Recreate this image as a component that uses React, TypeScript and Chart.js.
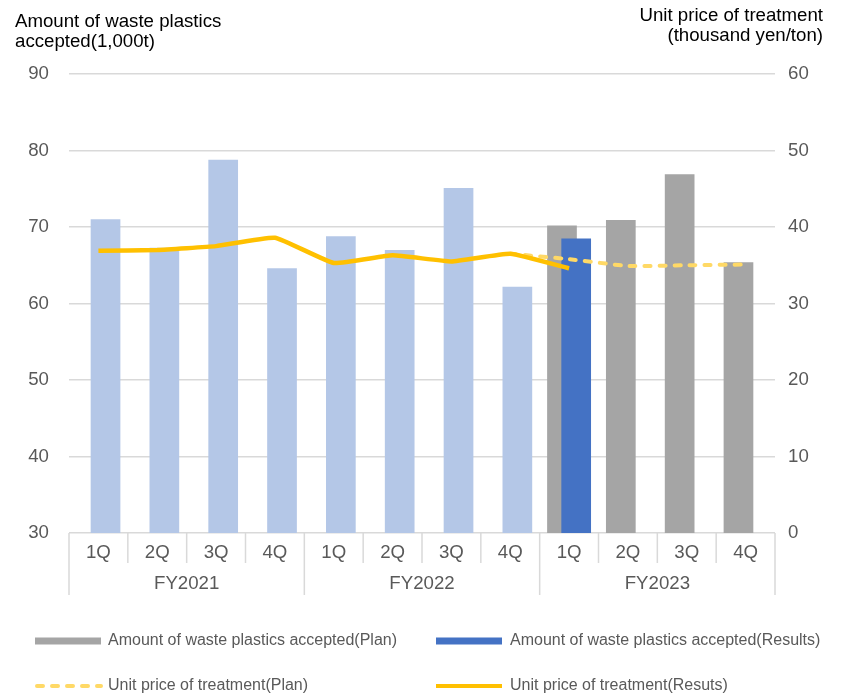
import React, { useEffect, useRef } from "react";
import { Chart, registerables } from "chart.js";

Chart.register(...registerables);

const quarters = ["1Q", "2Q", "3Q", "4Q", "1Q", "2Q", "3Q", "4Q", "1Q", "2Q", "3Q", "4Q"];
const fiscalYears = ["FY2021", "FY2022", "FY2023"];
const quartersPerYear = 4;

const wastePlan: (number | null)[] = [null, null, null, null, null, null, null, null, 70.2, 70.9, 76.9, 65.4];
const wasteResults: (number | null)[] = [71.0, 67.3, 78.8, 64.6, 68.8, 67.0, 75.1, 62.2, 68.5, null, null, null];
const pricePlan: (number | null)[] = [null, null, null, null, null, null, null, 36.5, 35.8, 34.9, 35.0, 35.1];
const priceResults: (number | null)[] = [36.9, 37.0, 37.5, 38.6, 35.3, 36.3, 35.5, 36.5, 34.6, null, null, null];

const leftTicks = { min: 30, max: 90, step: 10 };
const rightTicks = { min: 0, max: 60, step: 10 };

const leftTitle = ["Amount of waste plastics", "accepted(1,000t)"];
const rightTitle = ["Unit price of treatment", "(thousand yen/ton)"];
const legendLabels = [
  "Amount of waste plastics accepted(Plan)",
  "Amount of waste plastics accepted(Results)",
  "Unit price of treatment(Plan)",
  "Unit price of treatment(Resuts)",
];

const FONT = "'Liberation Sans', Arial, sans-serif";
const TEXT = "#595959";
const GRID = "#D9D9D9";
const C_PLAN = "#A5A5A5";
const C_RES = "#4472C4";
const C_RES_PAST = "#B4C7E7";
const C_LINE = "#FFC000";
const C_LINE_PLAN = "#FFD966";

const PLAN_BAR = 2;
const RES_BAR = 3;

const drawOrderPlugin = {
  id: "drawOrder",
  beforeDatasetDraw(chart: any, args: any) {
    if (args.index === RES_BAR) return false;
  },
  afterDatasetDraw(chart: any, args: any) {
    if (args.index === PLAN_BAR) {
      const meta = chart.getDatasetMeta(RES_BAR);
      if (meta && !meta.hidden) {
        const a = chart.chartArea;
        const ctx = chart.ctx;
        ctx.save();
        ctx.beginPath();
        ctx.rect(a.left, a.top, a.right - a.left, a.bottom - a.top);
        ctx.clip();
        meta.controller.draw();
        ctx.restore();
      }
    }
  },
};

const decorPlugin = {
  id: "decor",
  afterDraw(chart: any) {
    const ctx = chart.ctx as CanvasRenderingContext2D;
    const x = chart.scales.x;
    const area = chart.chartArea;
    const n = quarters.length;
    const w = (x.getPixelForValue(n - 1) - x.getPixelForValue(0)) / (n - 1);
    ctx.save();
    // separators
    ctx.strokeStyle = GRID;
    ctx.lineWidth = 1.5;
    for (let i = 0; i <= n; i++) {
      const px = x.getPixelForValue(0) - w / 2 + i * w;
      const isGroup = i % quartersPerYear === 0;
      ctx.beginPath();
      ctx.moveTo(px, area.bottom);
      ctx.lineTo(px, area.bottom + (isGroup ? 62 : 30));
      ctx.stroke();
    }
    // FY labels
    ctx.fillStyle = TEXT;
    ctx.font = `18.67px ${FONT}`;
    ctx.textAlign = "center";
    ctx.textBaseline = "middle";
    fiscalYears.forEach((fy, g) => {
      const a = x.getPixelForValue(g * quartersPerYear);
      const b = x.getPixelForValue(g * quartersPerYear + quartersPerYear - 1);
      ctx.fillText(fy, (a + b) / 2, area.bottom + 51);
    });
    // axis titles
    ctx.textBaseline = "alphabetic";
    ctx.textAlign = "left";
    ctx.fillStyle = "#000000";
    ctx.fillText(leftTitle[0], 15, 27);
    ctx.fillText(leftTitle[1], 15, 47);
    ctx.textAlign = "right";
    ctx.fillText(rightTitle[0], 823, 21);
    ctx.fillText(rightTitle[1], 823, 41);
    // legend
    ctx.font = `16px ${FONT}`;
    ctx.textAlign = "left";
    ctx.textBaseline = "middle";
    const cols = [35, 436];
    const rows = [641, 686];
    const sw = 66;
    ctx.fillStyle = C_PLAN;
    ctx.fillRect(cols[0], rows[0] - 3.5, sw, 7);
    ctx.fillStyle = C_RES;
    ctx.fillRect(cols[1], rows[0] - 3.5, sw, 7);
    ctx.lineWidth = 4;
    ctx.lineCap = "round";
    ctx.strokeStyle = C_LINE_PLAN;
    ctx.setLineDash([6, 9]);
    ctx.beginPath();
    ctx.moveTo(cols[0] + 2, rows[1]);
    ctx.lineTo(cols[0] + sw, rows[1]);
    ctx.stroke();
    ctx.setLineDash([]);
    ctx.lineCap = "butt";
    ctx.strokeStyle = C_LINE;
    ctx.beginPath();
    ctx.moveTo(cols[1], rows[1]);
    ctx.lineTo(cols[1] + sw, rows[1]);
    ctx.stroke();
    ctx.fillStyle = TEXT;
    ctx.fillText(legendLabels[0], cols[0] + 73, rows[0]);
    ctx.fillText(legendLabels[1], cols[1] + 74, rows[0]);
    ctx.fillText(legendLabels[2], cols[0] + 73, rows[1]);
    ctx.fillText(legendLabels[3], cols[1] + 74, rows[1]);
    ctx.restore();
  },
};

export default function App() {
  const ref = useRef<HTMLCanvasElement | null>(null);

  useEffect(() => {
    document.body.style.margin = "0";
    if (!ref.current) return;
    const chart = new Chart(ref.current, {
      type: "bar",
      data: {
        labels: quarters,
        datasets: [
          {
            type: "line",
            label: legendLabels[3],
            data: priceResults,
            yAxisID: "y1",
            borderColor: C_LINE,
            borderWidth: 4.5,
            pointRadius: 0,
            tension: 0.12,
            order: 0,
          } as any,
          {
            type: "line",
            label: legendLabels[2],
            data: pricePlan,
            yAxisID: "y1",
            borderColor: C_LINE_PLAN,
            borderWidth: 4,
            borderDash: [6, 9],
            borderCapStyle: "round",
            pointRadius: 0,
            tension: 0.12,
            order: 0,
          } as any,
          {
            type: "bar",
            label: legendLabels[0],
            data: wastePlan,
            yAxisID: "y",
            backgroundColor: C_PLAN,
            categoryPercentage: 0.483,
            barPercentage: 2.09,
            order: 1,
          } as any,
          {
            type: "bar",
            label: legendLabels[1],
            data: wasteResults,
            yAxisID: "y",
            backgroundColor: (c: any) =>
              Math.floor(c.dataIndex / quartersPerYear) < fiscalYears.length - 1 ? C_RES_PAST : C_RES,
            categoryPercentage: 0.483,
            barPercentage: 2.09,
            order: 1,
          } as any,
        ],
      },
      options: {
        animation: false,
        responsive: true,
        maintainAspectRatio: false,
        layout: { padding: { top: 74, left: 0, right: 0, bottom: 0 } },
        plugins: { legend: { display: false }, tooltip: { enabled: false } },
        scales: {
          x: {
            grid: { display: false, drawTicks: false },
            border: { display: false },
            ticks: { color: TEXT, font: { family: FONT, size: 18.67 }, padding: 9, maxRotation: 0, autoSkip: false },
            afterFit: (s: any) => {
              s.height = 164;
            },
          },
          y: {
            position: "left",
            min: leftTicks.min,
            max: leftTicks.max,
            ticks: { stepSize: leftTicks.step, color: TEXT, font: { family: FONT, size: 18.67 }, padding: 20 },
            grid: { color: GRID, lineWidth: 1.5, drawTicks: false },
            border: { display: false },
            afterFit: (s: any) => {
              s.width = 69;
            },
          },
          y1: {
            position: "right",
            min: rightTicks.min,
            max: rightTicks.max,
            ticks: { stepSize: rightTicks.step, color: TEXT, font: { family: FONT, size: 18.67 }, padding: 13 },
            grid: { drawOnChartArea: false, drawTicks: false },
            border: { display: false },
            afterFit: (s: any) => {
              s.width = 66;
            },
          },
        },
      },
      plugins: [drawOrderPlugin, decorPlugin],
    });
    return () => chart.destroy();
  }, []);

  return (
    <div style={{ width: 841, height: 697, position: "relative" }}>
      <canvas ref={ref} />
    </div>
  );
}
